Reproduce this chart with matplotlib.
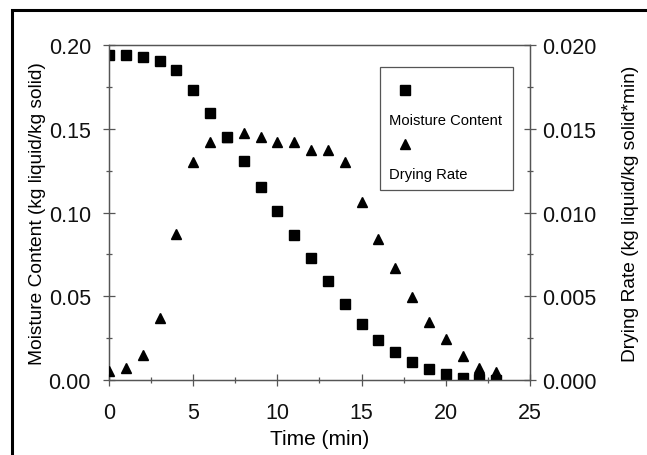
import matplotlib
matplotlib.use("Agg")
import matplotlib.pyplot as plt
from matplotlib.patches import Rectangle
from matplotlib.ticker import MultipleLocator, FormatStrFormatter

plt.rcParams['font.family'] = ['Liberation Sans', 'DejaVu Sans']

# data
time_min = list(range(24))
moisture = [0.194, 0.1938, 0.1926, 0.1906, 0.1853, 0.1733, 0.1594, 0.1449,
            0.1306, 0.1154, 0.1011, 0.0866, 0.0726, 0.0593, 0.0452, 0.0332,
            0.0239, 0.0165, 0.0106, 0.0064, 0.0036, 0.0012, 0.0004, 0.0]
drying_rate = [0.00052, 0.00073, 0.0015, 0.0037, 0.0087, 0.0130, 0.0142, 0.0145,
               0.01473, 0.01449, 0.01423, 0.01423, 0.01373, 0.01373, 0.0130, 0.01065,
               0.0084, 0.00667, 0.00494, 0.00344, 0.00245, 0.00145, 0.0007, 0.00046]

fig = plt.figure(figsize=(6.47, 4.56), dpi=100)
ax = fig.add_axes([0.1685, 0.1645, 0.6505, 0.7345])
ax2 = ax.twinx()

spine_col = '#555555'
for a in (ax, ax2):
    for s in a.spines.values():
        s.set_color(spine_col)
        s.set_linewidth(0.9)
    a.tick_params(which='both', direction='inout', color=spine_col, labelsize=15.5,
                  labelcolor='#111111', width=0.9)
    a.tick_params(which='major', length=8)
    a.tick_params(which='minor', length=5)
ax.tick_params(axis='x', which='major', pad=12)
ax.tick_params(axis='y', which='major', pad=9)
ax2.tick_params(axis='y', which='major', pad=5)

ax.plot(time_min, moisture, 's', color='black', markersize=6.5, zorder=3)
ax2.plot(time_min, drying_rate, '^', color='black', markersize=7, zorder=3)

ax.set_xlim(0, 25)
ax.set_ylim(0, 0.20)
ax2.set_ylim(0, 0.020)
ax.xaxis.set_major_locator(MultipleLocator(5))
ax.xaxis.set_minor_locator(MultipleLocator(2.5))
ax.yaxis.set_major_locator(MultipleLocator(0.05))
ax.yaxis.set_minor_locator(MultipleLocator(0.025))
ax.yaxis.set_major_formatter(FormatStrFormatter('%.2f'))
ax2.yaxis.set_major_locator(MultipleLocator(0.005))
ax2.yaxis.set_minor_locator(MultipleLocator(0.0025))
ax2.yaxis.set_major_formatter(FormatStrFormatter('%.3f'))

ax.set_xlabel('Time (min)', fontsize=15, labelpad=4)
ax.set_ylabel('Moisture Content (kg liquid/kg solid)', fontsize=13.8, labelpad=2)
ax2.set_ylabel('Drying Rate (kg liquid/kg solid*min)', fontsize=13.8, labelpad=18)

# legend drawn as in the original: marker above its label inside a box
ax2.add_patch(Rectangle((0.644, 0.568), 0.316, 0.366, transform=ax.transAxes,
                        fill=True, facecolor='white', edgecolor=spine_col, lw=0.9, zorder=4))
ax2.plot([0.703], [0.867], 's', color='black', markersize=6.5, transform=ax.transAxes, zorder=5)
ax2.plot([0.703], [0.704], '^', color='black', markersize=7, transform=ax.transAxes, zorder=5)
ax2.text(0.665, 0.777, 'Moisture Content', transform=ax.transAxes, fontsize=10.6,
         va='center', ha='left', zorder=5)
ax2.text(0.665, 0.615, 'Drying Rate', transform=ax.transAxes, fontsize=10.6,
         va='center', ha='left', zorder=5)

# thick frame of the scanned page
fig.patches.append(Rectangle((12 / 647, -0.1), 1.2, 1.1 - 11 / 456, transform=fig.transFigure,
                             fill=False, edgecolor='black', lw=2.2))

fig.savefig('out.png', dpi=100)
